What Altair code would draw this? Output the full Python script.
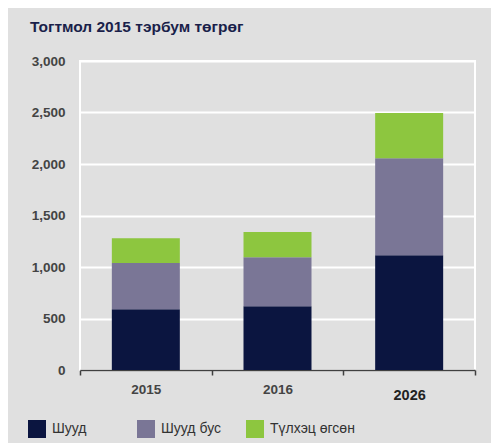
import altair as alt
import pandas as pd

years = ["2015", "2016", "2026"]
series = ["Шууд", "Шууд бус", "Түлхэц өгсөн"]
direct = [590, 620, 1115]
indirect = [450, 475, 940]
induced = [240, 245, 440]
colors = ["#0b1540", "#7a7696", "#8dc63f"]

rows = []
for i, y in enumerate(years):
    for j, (s, vals) in enumerate(zip(series, [direct, indirect, induced])):
        rows.append({"year": y, "series": s, "value": vals[i], "idx": j})
df = pd.DataFrame(rows)

FONT = "Liberation Sans, Arial"

chart = alt.Chart(df).mark_bar(size=68).encode(
    x=alt.X("year:N", sort=years, title=None,
            scale=alt.Scale(paddingInner=0, paddingOuter=0),
            axis=alt.Axis(labelAngle=0, tickBand="extent", domainColor="#404040",
                          domainWidth=1.5, tickColor="#404040", tickSize=5, tickWidth=1.5,
                          labelFont=FONT,
                          labelColor=alt.condition("datum.value == '2026'", alt.value("#222222"), alt.value("#444444")),
                          labelFontSize=alt.condition("datum.value == '2026'", alt.value(14.5), alt.value(13.5)),
                          labelFontWeight="bold",
                          labelPadding=alt.condition("datum.value == '2026'", alt.value(13), alt.value(7)),
                          grid=False)),
    y=alt.Y("value:Q", stack="zero", title=None,
            scale=alt.Scale(domain=[0, 3000], nice=False),
            axis=alt.Axis(values=[0, 500, 1000, 1500, 2000, 2500, 3000], format=",.0f",
                          domain=False, ticks=False, labelPadding=15,
                          labelFont=FONT, labelFontSize=13.5, labelFontWeight="bold",
                          labelColor="#444444",
                          gridColor="#ffffff", gridWidth=2)),
    color=alt.Color("series:N", scale=alt.Scale(domain=series, range=colors),
                    legend=alt.Legend(title=None, orient="none", legendX=-52, legendY=359,
                                      direction="horizontal", columns=3, gridAlign="all",
                                      symbolType="square", symbolSize=324, symbolStrokeWidth=0,
                                      symbolOpacity=1, labelFont=FONT, labelFontSize=14,
                                      labelColor="#333333", labelOffset=6, columnPadding=0)),
    order=alt.Order("idx:Q", sort="ascending"),
).properties(
    width=395, height=309,
    padding={"left": 72, "top": 53, "right": 16, "bottom": 74},
    autosize=alt.AutoSizeParams(type="none"),
    background="#e0e0e0",
    title=alt.TitleParams("Тогтмол 2015 тэрбум төгрөг", anchor="start", dx=2,
                          font=FONT, fontSize=15.5, fontWeight="bold", color="#1a1f4a",
                          offset=19),
).configure_view(stroke="#ffffff", strokeWidth=2)

chart.save("out.html", embed_options={"renderer": "svg", "actions": False})
